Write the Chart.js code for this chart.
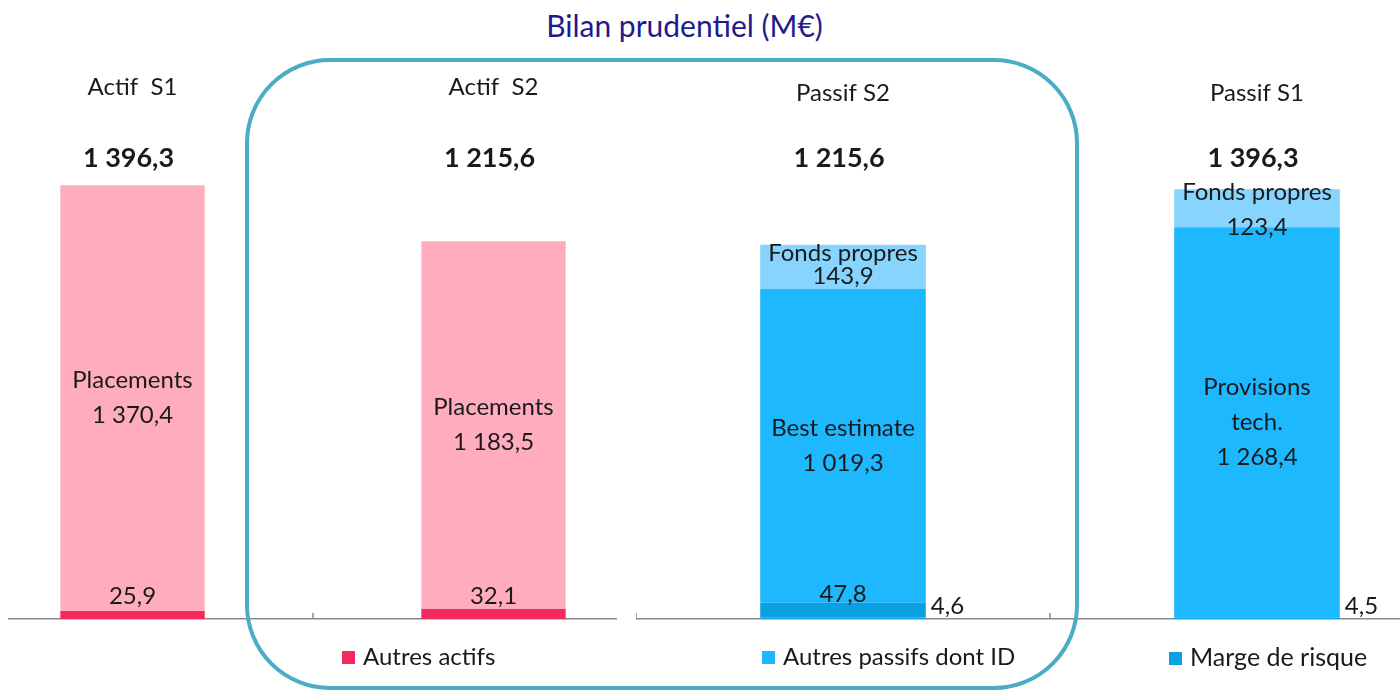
<!DOCTYPE html>
<html>
<head>
<meta charset="utf-8">
<script src="https://cdn.jsdelivr.net/npm/chart.js@4/dist/chart.umd.min.js"></script>
<style>
body { margin: 0; width: 1400px; height: 691px; overflow: hidden; background: #fff; position: relative; font-family: Lato, sans-serif; }
#title { position: absolute; left: 0; top: 7px; width: 1369px; text-align: center; font-size: 30px; color: #1f1b8c; }
.wrap { position: absolute; top: 0; height: 691px; overflow: hidden; }
#leftWrap { left: 8px; width: 609px; }
#rightWrap { left: 617px; width: 783px; }
#leftWrap canvas { position: absolute; left: -56px; top: -30px; }
#rightWrap canvas { position: absolute; left: 19px; top: -30px; }
#frame { position: absolute; left: 245px; top: 58px; width: 826px; height: 624px; border: 4px solid #4bacc6; border-radius: 85px; pointer-events: none; }
.legend { position: absolute; top: 641px; font-size: 24px; color: #1a1a1a; white-space: nowrap; }
.legend i { display: inline-block; width: 13px; height: 13px; margin-right: 8px; vertical-align: 1px; }
</style>
</head>
<body>
<div id="title">Bilan prudentiel (M€)</div>
<div class="wrap" id="leftWrap"><canvas id="actifChart" width="722" height="721"></canvas></div>
<div class="wrap" id="rightWrap"><canvas id="passifChart" width="828" height="721"></canvas></div>
<div class="legend" id="legActif" style="left:342px"></div>
<div class="legend" id="legPassif1" style="left:762px"></div>
<div class="legend" id="legPassif2" style="left:1169px; font-size:25px"></div>
<div id="frame"></div>
<script>
// actif side
const actifCategories = ['Actif  S1', 'Actif  S2'];
const autresActifs = [25.9, 32.1];
const placements = [1370.4, 1183.5];

// passif side
const passifCategories = ['Passif S2', 'Passif S1'];
const margeRisque = [4.6, 4.5];
const autresPassifs = [47.8, null];
const bestEstimate = [1019.3, 1268.4];
const bestEstimateNames = [['Best estimate'], ['Provisions', 'tech.']];
const fondsPropres = [143.9, 123.4];

const yMax = 1400;

function fmt(v) {
    const parts = v.toFixed(1).split('.');
    return parts[0].replace(/\B(?=(\d{3})+(?!\d))/g, ' ') + ',' + parts[1];
}

// draws the value labels of each segment and the total above each column
const barLabels = {
    id: 'barLabels',
    afterDatasetsDraw(chart, args, opts) {
        const ctx = chart.ctx;
        ctx.save();
        ctx.fillStyle = '#1a1a1a';
        ctx.textBaseline = 'middle';
        chart.data.datasets.forEach((ds, di) => {
            const meta = chart.getDatasetMeta(di);
            meta.data.forEach((bar, i) => {
                const v = ds.data[i];
                if (!v) return;
                ctx.font = '24px Lato';
                if (ds.labelMode === 'inside') {
                    const lines = (ds.names ? ds.names[i] : [ds.label]).concat([fmt(v)]);
                    const gap = ds.lineGap ? ds.lineGap[i] : 35;
                    const cy = (bar.y + bar.base) / 2 + (ds.shift ? ds.shift[i] : 0);
                    ctx.textAlign = 'center';
                    lines.forEach((t, k) => {
                        ctx.fillText(t, bar.x, cy + (k - (lines.length - 1) / 2) * gap);
                    });
                } else if (ds.labelMode === 'above') {
                    ctx.textAlign = 'center';
                    ctx.fillText(fmt(v), bar.x, bar.base - 23);
                } else if (ds.labelMode === 'right') {
                    ctx.textAlign = 'left';
                    ctx.fillText(fmt(v), bar.x + bar.width / 2 + 5, bar.base - 13);
                }
            });
        });
        // totals
        const xs = chart.scales.x;
        ctx.font = 'bold 27px Lato';
        ctx.textAlign = 'center';
        chart.data.labels.forEach((c, i) => {
            let sum = 0;
            chart.data.datasets.forEach(ds => { sum += ds.data[i] || 0; });
            ctx.fillText(fmt(sum), xs.getPixelForValue(i) - 4, chart.chartArea.top - opts.totalOffset);
        });
        // inside tick marks at category boundaries
        const a = chart.chartArea;
        ctx.strokeStyle = '#898989';
        ctx.lineWidth = 1.5;
        [a.left, (a.left + a.right) / 2, a.right].forEach(x => {
            ctx.beginPath();
            ctx.moveTo(x, a.bottom);
            ctx.lineTo(x, a.bottom - 6);
            ctx.stroke();
        });
        ctx.restore();
    }
};

function makeOptions(topPad, tickPad, totalOffset) {
    return {
        responsive: false,
        animation: false,
        layout: { padding: { top: topPad, bottom: 72, left: 0, right: 0 } },
        plugins: {
            legend: { display: false },
            tooltip: { enabled: false },
            barLabels: { totalOffset: totalOffset }
        },
        scales: {
            x: {
                stacked: true,
                offset: true,
                grid: { display: false, drawTicks: false },
                ticks: { display: false },
                border: { display: true, color: '#898989', width: 1.5 }
            },
            x2: {
                type: 'category',
                position: 'top',
                offset: true,
                grid: { display: false, drawTicks: false },
                border: { display: false },
                ticks: { padding: tickPad, color: '#1a1a1a', font: { family: 'Lato', size: 24 } }
            },
            y: { stacked: true, display: false, min: 0, max: yMax }
        }
    };
}

const actifOptions = makeOptions(20, 82.6, 26);
actifOptions.scales.x2.labels = actifCategories;
new Chart(document.getElementById('actifChart'), {
    type: 'bar',
    data: {
        labels: actifCategories,
        datasets: [
            { label: 'Autres actifs', data: autresActifs, backgroundColor: '#f42a5f', labelMode: 'above',
              barPercentage: 0.4, categoryPercentage: 1 },
            { label: 'Placements', data: placements, backgroundColor: '#ffadbe', labelMode: 'inside',
              barPercentage: 0.4, categoryPercentage: 1 }
        ]
    },
    options: actifOptions,
    plugins: [barLabels]
});

const passifOptions = makeOptions(28, 80.6, 30);
passifOptions.scales.x2.labels = passifCategories;
new Chart(document.getElementById('passifChart'), {
    type: 'bar',
    data: {
        labels: passifCategories,
        datasets: [
            { label: 'Marge de risque', data: margeRisque, backgroundColor: '#0aa0e2', labelMode: 'right',
              barPercentage: 0.4, categoryPercentage: 1 },
            { label: 'Autres passifs dont ID', data: autresPassifs, backgroundColor: '#0aa0e2', labelMode: 'above',
              barPercentage: 0.4, categoryPercentage: 1 },
            { label: 'Best estimate', data: bestEstimate, names: bestEstimateNames, backgroundColor: '#1eb8ff',
              labelMode: 'inside', barPercentage: 0.4, categoryPercentage: 1 },
            { label: 'Fonds propres', data: fondsPropres, backgroundColor: '#87d5ff', labelMode: 'inside',
              lineGap: [23, 35], shift: [-2, 2], barPercentage: 0.4, categoryPercentage: 1 }
        ]
    },
    options: passifOptions,
    plugins: [barLabels]
});

// legends as shown in the picture
function legendItem(id, text, color) {
    document.getElementById(id).innerHTML = '<i style="background:' + color + '"></i>' + text;
}
legendItem('legActif', 'Autres actifs', '#f42a5f');
legendItem('legPassif1', 'Autres passifs dont ID', '#1eb8ff');
legendItem('legPassif2', 'Marge de risque', '#0aa0e2');
</script>
</body>
</html>
